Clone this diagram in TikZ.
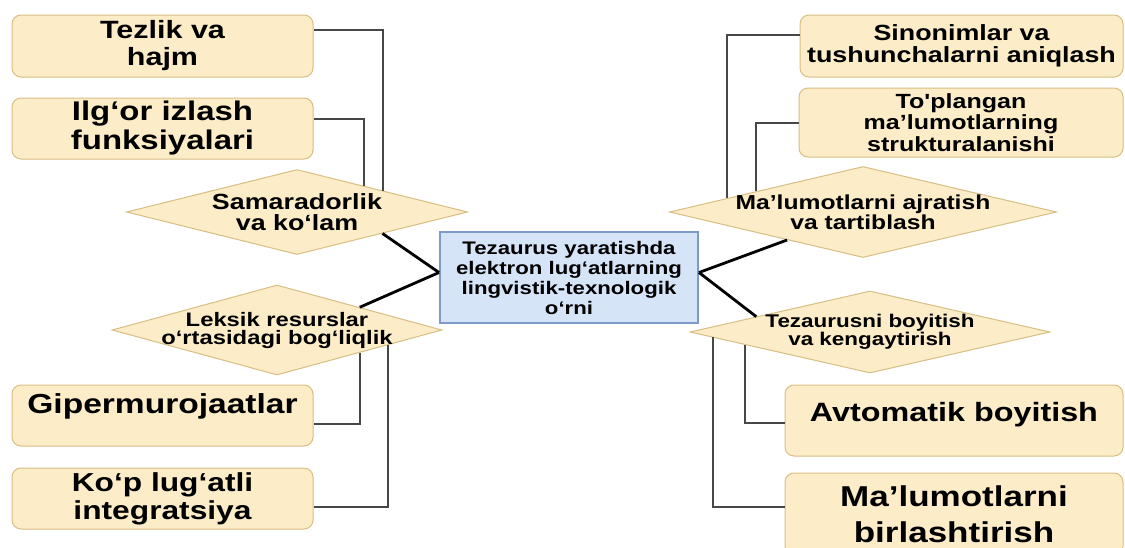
\documentclass[tikz,border=0pt]{standalone}
\usepackage{fontspec}
\setmainfont{Liberation Sans}[FakeStretch=1.22, Ligatures=TeXOff]
\usetikzlibrary{positioning,calc,shapes}

\definecolor{boxfill}{HTML}{FCECC8}
\definecolor{boxline}{HTML}{D8BE82}
\definecolor{hubfill}{HTML}{D6E4F8}
\definecolor{hubline}{HTML}{7D9BC9}
\definecolor{linkgray}{HTML}{474747}

\newcommand{\fsz}[2]{\bfseries\fontsize{#1}{#2}\selectfont}

\begin{document}
\begin{tikzpicture}[x=1pt, y=-1pt,
  box/.style={draw=boxline, fill=boxfill, line width=1pt, rounded corners=9pt, align=center, inner xsep=3pt, inner ysep=0pt},
  dia/.style={diamond, draw=boxline, fill=boxfill, line width=1pt, align=center, inner xsep=-25pt, inner ysep=0pt},
  hub/.style={draw=hubline, fill=hubfill, line width=2pt, align=center},
  link/.style={draw=linkgray, line width=2pt},
  spoke/.style={draw=black, line width=2.8pt}]
  \useasboundingbox (0,0) rectangle (1125,547);
  \clip (0,0) rectangle (1125,547);

  \node[box, minimum width=301pt, minimum height=62pt, font=\fsz{25}{27}] (tezlik) at (162.5,46) {Tezlik va\\hajm};
  \node[box, minimum width=301pt, minimum height=61pt, font=\fsz{27}{29}] (ilgor) at (162.5,128.5) {Ilg‘or izlash\\funksiyalari};
  \node[dia, minimum width=341pt, minimum height=85pt, shape aspect=4, font=\fsz{22}{21}] (sam) at (297,212) {Samaradorlik\\va ko‘lam};
  \node[dia, minimum width=330pt, minimum height=90pt, shape aspect=3.67, font=\fsz{19.5}{18}] (leksik) at (277,330) {Leksik resurslar\\o‘rtasidagi bog‘liqlik};
  \node[box, minimum width=301pt, minimum height=61pt, font=\fsz{27.5}{24}] (gip) at (162.5,415.5) {Gipermurojaatlar\\~};
  \node[box, minimum width=301pt, minimum height=61pt, font=\fsz{26}{28}] (kop) at (162.5,498.5) {Ko‘p lug‘atli\\integratsiya};

  \node[hub, minimum width=258pt, minimum height=91pt, font=\fsz{18.2}{20}] (hub) at (569,277.5) {Tezaurus yaratishda\\elektron lug‘atlarning\\lingvistik-texnologik\\o‘rni};

  \node[box, minimum width=323pt, minimum height=62pt, font=\fsz{22}{21.5}] (sinonim) at (961.5,46) {Sinonimlar va\\tushunchalarni aniqlash};
  \node[box, minimum width=324pt, minimum height=69pt, font=\fsz{20.5}{21.5}] (toplangan) at (961,122.5) {To'plangan\\ma’lumotlarning\\strukturalanishi};
  \node[dia, minimum width=387pt, minimum height=91pt, shape aspect=4.25, font=\fsz{20.2}{18}] (malum) at (863,212) {Ma’lumotlarni ajratish\\va tartiblash};
  \node[dia, minimum width=360pt, minimum height=82pt, shape aspect=4.4, font=\fsz{18.4}{18}] (boyit) at (870,332) {Tezaurusni boyitish\\va kengaytirish};
  \node[box, minimum width=338pt, minimum height=71pt, font=\fsz{26.5}{17}] (avto) at (954,420.5) {Avtomatik boyitish\\~};
  \node[box, minimum width=338pt, minimum height=82pt, font=\fsz{28.7}{36}] (birlash) at (954,514) {Ma’lumotlarni\\birlashtirish};

  \draw[spoke] ($(hub.west)+(0,-5)$) -- (sam.south east);
  \draw[spoke] ($(hub.west)+(0,-5)$) -- (leksik.north east);
  \draw[spoke] ($(hub.east)+(0,-5)$) -- (malum);
  \draw[spoke] ($(hub.east)+(0,-5)$) -- ($(boyit.west)!0.37!(boyit.north)$);

  \draw[link] ($(tezlik.east)+(0,-16)$) -| (sam.north east);
  \draw[link] ($(ilgor.east)+(0,-10)$) -| ($(sam.north)!0.39!(sam.east)$);
  \draw[link] ($(gip.east)+(0,8)$) -| (leksik.south east);
  \draw[link] ($(kop.east)+(0,8.5)$) -| ($(leksik.east)!0.33!(leksik.south)$);
  \draw[link] ($(sinonim.west)+(0,-11)$) -| ($(malum.west)!0.3!(malum.north)$);
  \draw[link] (toplangan.west) -| ($(malum.west)!0.45!(malum.north)$);
  \draw[link] ($(avto.west)+(0,2.5)$) -| ($(boyit.west)!0.31!(boyit.south)$);
  \draw[link] ($(birlash.west)+(0,-7)$) -| ($(boyit.west)!0.13!(boyit.south)$);
\end{tikzpicture}
\end{document}
